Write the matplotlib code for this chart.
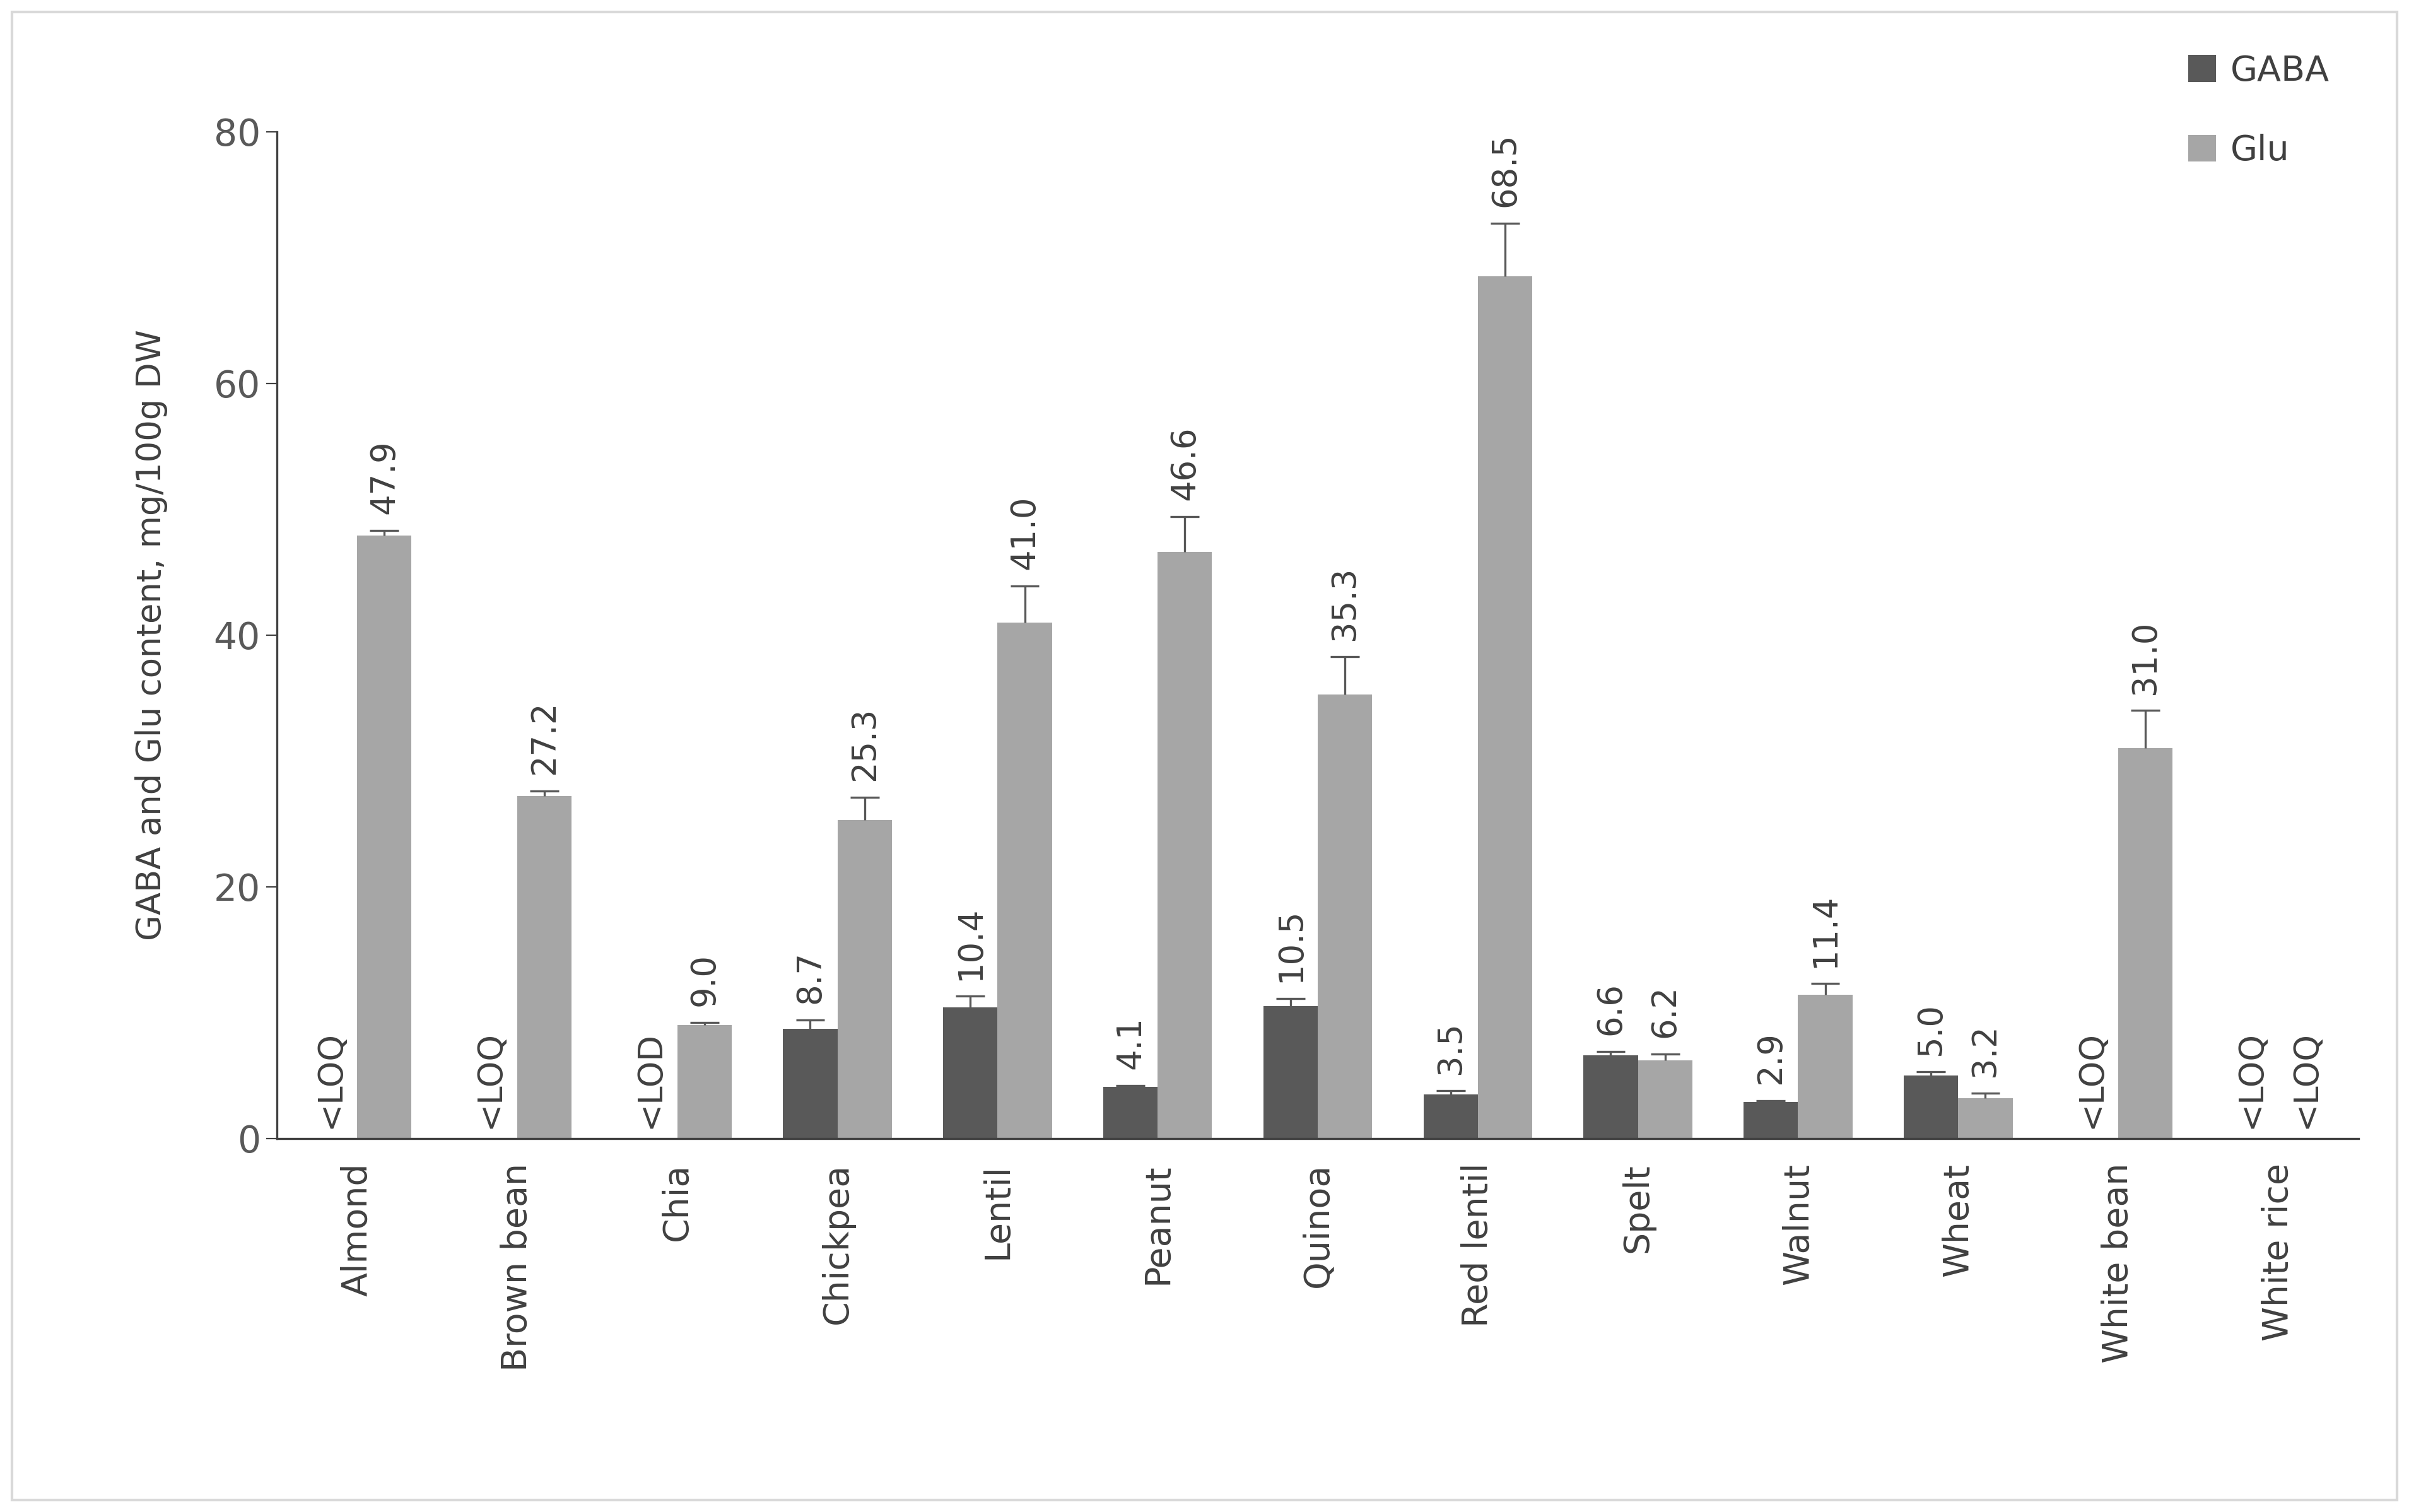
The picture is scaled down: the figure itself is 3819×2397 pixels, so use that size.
import matplotlib
matplotlib.use("Agg")
import matplotlib.pyplot as plt
import numpy as np
from matplotlib.patches import Rectangle

categories = ["Almond", "Brown bean", "Chia", "Chickpea", "Lentil", "Peanut", "Quinoa",
              "Red lentil", "Spelt", "Walnut", "Wheat", "White bean", "White rice"]
gaba = [0, 0, 0, 8.7, 10.4, 4.1, 10.5, 3.5, 6.6, 2.9, 5.0, 0, 0]
gaba_err = [0, 0, 0, 0.7, 0.9, 0.1, 0.6, 0.3, 0.3, 0.1, 0.3, 0, 0]
gaba_labels = ["<LOQ", "<LOQ", "<LOD", "8.7", "10.4", "4.1", "10.5", "3.5", "6.6", "2.9", "5.0", "<LOQ", "<LOQ"]
glu = [47.9, 27.2, 9.0, 25.3, 41.0, 46.6, 35.3, 68.5, 6.2, 11.4, 3.2, 31.0, 0]
glu_err = [0.4, 0.4, 0.2, 1.8, 2.9, 2.8, 3.0, 4.2, 0.5, 0.9, 0.4, 3.0, 0]
glu_labels = ["47.9", "27.2", "9.0", "25.3", "41.0", "46.6", "35.3", "68.5", "6.2", "11.4", "3.2", "31.0", "<LOQ"]

TXT = "#595959"
plt.rcParams["font.family"] = ["DejaVu Sans"]

fig = plt.figure(figsize=(19.095, 11.985), dpi=200)
fig.patches.append(Rectangle((0.005, 0.008), 0.99, 0.984, transform=fig.transFigure,
                             fill=False, edgecolor="#d9d9d9", linewidth=1.5))
ax = fig.add_axes([0.115, 0.247, 0.864, 0.666])

x = np.arange(len(categories))
w = 0.34
ax.bar(x - w / 2, gaba, w, color="#595959", label="GABA")
ax.bar(x + w / 2, glu, w, color="#a6a6a6", label="Glu")

# one-sided error bars, cap on top only
cap = 0.09
for xs, vals, errs in [(x - w / 2, gaba, gaba_err), (x + w / 2, glu, glu_err)]:
    for xx, v, e in zip(xs, vals, errs):
        if v <= 0:
            continue
        ax.vlines(xx, v, v + e, color=TXT, linewidth=1.2)
        ax.hlines(v + e, xx - cap, xx + cap, color=TXT, linewidth=1.2)

for i in range(len(x)):
    for xx, v, e, lab in [(x[i] - w / 2, gaba[i], gaba_err[i], gaba_labels[i]),
                          (x[i] + w / 2, glu[i], glu_err[i], glu_labels[i])]:
        y = v + e + 1.3 if v > 0 else 0.8
        ax.text(xx, y, lab, rotation=90, ha="center", va="bottom", fontsize=19, color="#404040")

ax.set_xlim(-0.5, len(x) - 0.5)
ax.set_ylim(0, 80)
ax.set_yticks([0, 20, 40, 60, 80])
ax.set_xticks(x)
ax.set_xticklabels(categories, rotation=90, fontsize=20, color="#404040")
ax.tick_params(axis="y", labelsize=21, labelcolor=TXT, color="#404040", length=6)
ax.tick_params(axis="x", length=0, pad=14)
ax.set_ylabel("GABA and Glu content, mg/100g DW", fontsize=19, color="#404040", labelpad=26)
for s in ["top", "right"]:
    ax.spines[s].set_visible(False)
for s in ["left", "bottom"]:
    ax.spines[s].set_color("#404040")
    ax.spines[s].set_linewidth(1.2)

fig.legend(loc="upper right", bbox_to_anchor=(0.98, 0.985), frameon=False, fontsize=20,
           labelspacing=1.3, handlelength=0.8, handleheight=0.8, handletextpad=0.4,
           labelcolor="#404040")

fig.savefig("out.png", dpi=200)
